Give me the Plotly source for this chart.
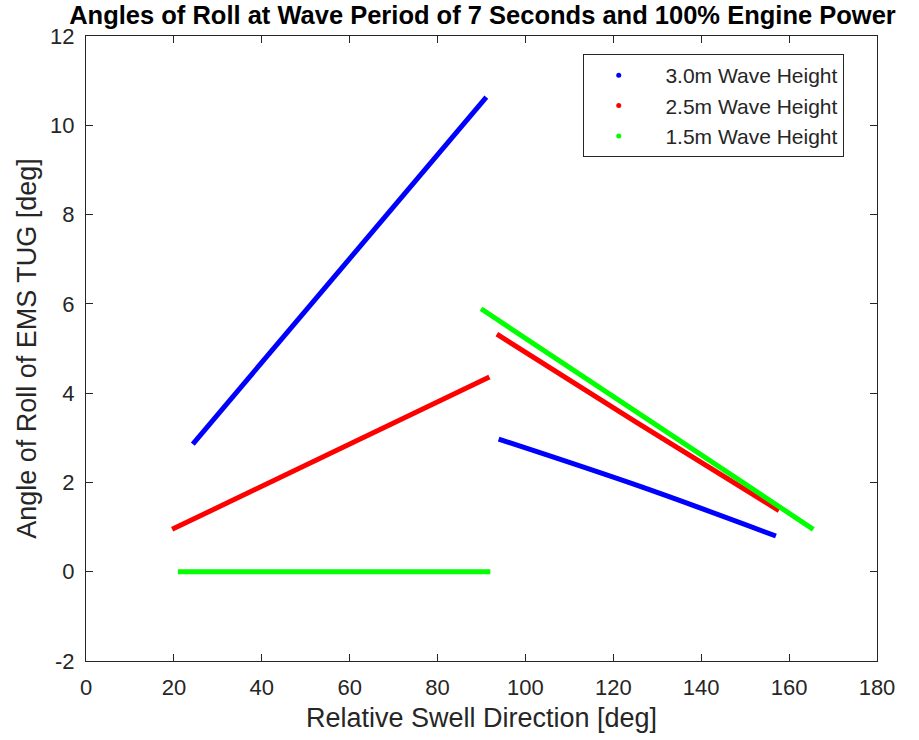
import plotly.graph_objects as go

# Data
blue1_x = [24.3, 91.1]
blue1_y = [2.86, 10.63]
blue2_x = [93.9, 126.1, 157.0]
blue2_y = [2.97, 1.91, 0.80]

red1_x = [19.6, 91.8]
red1_y = [0.95, 4.36]
red2_x = [93.5, 125.0, 157.7]
red2_y = [5.32, 3.36, 1.37]

green1_x = [20.9, 92.0]
green1_y = [0.0, 0.0]
green2_x = [89.9, 128.0, 165.5]
green2_y = [5.89, 3.40, 0.95]

series_names = ["3.0m Wave Height", "2.5m Wave Height", "1.5m Wave Height"]
colors = ["#0000ff", "#ff0000", "#00ff00"]

x_ticks = list(range(0, 181, 20))
y_ticks = list(range(-2, 13, 2))
y_ticktext = ["-2", "0", "2", "4", "6", "8", "10", "12"]

fig = go.Figure()

segments = [
    (blue1_x, blue1_y, 0), (blue2_x, blue2_y, 0),
    (red1_x, red1_y, 1), (red2_x, red2_y, 1),
    (green1_x, green1_y, 2), (green2_x, green2_y, 2),
]
for xs, ys, ci in segments:
    fig.add_trace(go.Scatter(x=xs, y=ys, mode="lines",
                             line=dict(color=colors[ci], width=5, shape="spline", smoothing=1.0),
                             showlegend=False, hoverinfo="skip"))

NB = "\u00a0"
for name, c in zip(series_names, colors):
    fig.add_trace(go.Scatter(x=[None], y=[None], mode="markers", name=NB + NB + name,
                             marker=dict(color=c, size=5)))

FAM = "Liberation Sans, Arial, sans-serif"
axis_font = dict(family=FAM, size=22, color="#262626")
fig.update_layout(
    width=919, height=740,
    paper_bgcolor="white", plot_bgcolor="white",
    margin=dict(l=86, r=42, t=36, b=79),
    title=dict(text="<b>Angles of Roll at Wave Period of 7 Seconds and 100% Engine Power</b>",
               x=0.525, xanchor="center", y=0.979, yanchor="middle",
               font=dict(family=FAM, size=25.5, color="black")),
    xaxis=dict(range=[0, 180], tickvals=x_ticks, ticks="inside", ticklen=7,
               tickcolor="#262626", showline=True, linecolor="#262626", linewidth=1,
               mirror="ticks", showgrid=False, zeroline=False, tickfont=axis_font,
               ticklabelstandoff=7,
               title=dict(text="Relative Swell Direction [deg]", font=dict(family=FAM, size=27, color="#262626"), standoff=8)),
    yaxis=dict(range=[-2, 12], tickvals=y_ticks, ticktext=y_ticktext, ticks="inside", ticklen=7,
               tickcolor="#262626", showline=True, linecolor="#262626", linewidth=1,
               mirror="ticks", showgrid=False, zeroline=False, tickfont=axis_font,
               ticklabelstandoff=6,
               title=dict(text="Angle of Roll of EMS TUG [deg]", font=dict(family=FAM, size=27, color="#262626"), standoff=5)),
    legend=dict(x=0.628, y=0.971, xanchor="left", yanchor="top",
                bordercolor="#262626", borderwidth=1, bgcolor="white",
                font=dict(family=FAM, size=21, color="#262626"),
                itemwidth=60, tracegroupgap=0),
)

fig.write_html("out.html")
